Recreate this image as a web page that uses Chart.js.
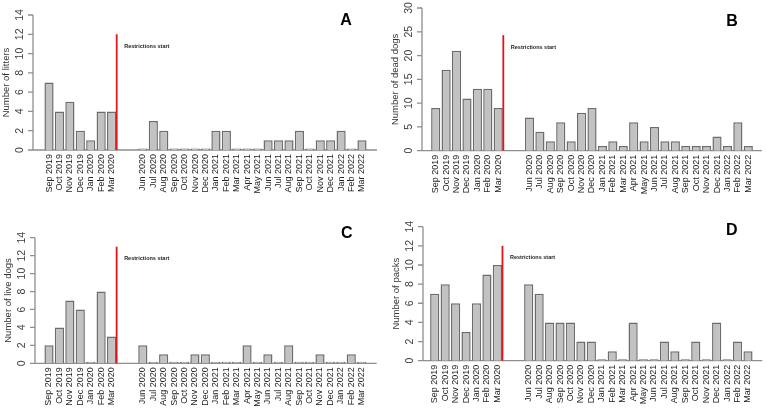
<!DOCTYPE html>
<html>
<head>
<meta charset="utf-8">
<script src="https://cdn.jsdelivr.net/npm/chart.js@4"></script>
<style>
  html, body { margin: 0; padding: 0; background: #fff; }
  #wrap { position: relative; width: 767px; height: 410px; overflow: hidden; }
  canvas { position: absolute; }
</style>
</head>
<body>
<div id="wrap">
  <canvas id="cA" width="384" height="205" style="left:0;top:0"></canvas>
  <canvas id="cB" width="383" height="205" style="left:384px;top:0"></canvas>
  <canvas id="cC" width="384" height="205" style="left:0;top:205px"></canvas>
  <canvas id="cD" width="383" height="205" style="left:384px;top:205px"></canvas>
</div>
<script>
// ---- Data ----
// '' entries = Apr 2020 / May 2020 gap (no data, no label)
const months = ['Sep 2019','Oct 2019','Nov 2019','Dec 2019','Jan 2020','Feb 2020','Mar 2020','','',
  'Jun 2020','Jul 2020','Aug 2020','Sep 2020','Oct 2020','Nov 2020','Dec 2020',
  'Jan 2021','Feb 2021','Mar 2021','Apr 2021','May 2021','Jun 2021','Jul 2021','Aug 2021','Sep 2021','Oct 2021','Nov 2021','Dec 2021',
  'Jan 2022','Feb 2022','Mar 2022'];

const litters  = [7,4,5,2,1,4,4, null,null, 0,3,2,0,0,0,0, 2,2,0,0,0,1,1,1,2,0,1,1, 2,0,1];
const deadDogs = [9,17,21,11,13,13,9, null,null, 7,4,2,6,2,8,9, 1,2,1,6,2,5,2,2,1,1,1,3, 1,6,1];
const liveDogs = [2,4,7,6,0,8,3, null,null, 2,0,1,0,0,1,1, 0,0,0,2,0,1,0,2,0,0,1,0, 0,1,0];
const packs    = [7,8,6,3,6,9,10, null,null, 8,7,4,4,4,2,2, 0,1,0,4,0,0,2,1,0,2,0,4, 0,2,1];

const panelLetters = ['A','B','C','D'];
const yTitles = ['Number of litters','Number of dead dogs','Number of live dogs','Number of packs'];
const yMaxes = [14, 30, 14, 14];
const ySteps = [2, 5, 2, 2];
const restrictionTops = [12, 24.3, 13, 12];
const restrictionLabel = 'Restrictions start';
const restrictionIndex = 6; // Mar 2020

const FONT = '"Liberation Sans", Arial, sans-serif';
Chart.defaults.font.family = FONT;

const rPlot = {
  id: 'rPlot',
  beforeDatasetsDraw(chart, args, o) {
    const ctx = chart.ctx, y = chart.scales.y;
    const ax = o.axisX;
    const y0 = y.getPixelForValue(0), yTop = y.getPixelForValue(y.max);
    ctx.save();
    ctx.strokeStyle = '#8f8f8f';
    ctx.lineWidth = 1.3;
    ctx.beginPath();
    ctx.moveTo(ax, y0); ctx.lineTo(ax, yTop);
    y.ticks.forEach(t => {
      const py = y.getPixelForValue(t.value);
      ctx.moveTo(ax - 5, py); ctx.lineTo(ax, py);
    });
    ctx.moveTo(ax, y0); ctx.lineTo(o.baseRight, y0);
    ctx.stroke();
    // tick labels (rotated like R)
    ctx.fillStyle = '#404040';
    ctx.font = '10.5px ' + FONT;
    ctx.textAlign = 'center';
    ctx.textBaseline = 'middle';
    y.ticks.forEach(t => {
      const py = y.getPixelForValue(t.value);
      ctx.save();
      ctx.translate(ax - 13, py);
      ctx.rotate(-Math.PI / 2);
      ctx.fillText(String(t.value), 0, 0);
      ctx.restore();
    });
    // axis title
    const ca = chart.chartArea;
    ctx.font = '9.5px ' + FONT;
    ctx.fillStyle = '#333';
    ctx.save();
    ctx.translate(ax - 27, (ca.top + ca.bottom) / 2);
    ctx.rotate(-Math.PI / 2);
    ctx.fillText(o.title, 0, 0);
    ctx.restore();
    ctx.restore();
  },
  afterDatasetsDraw(chart, args, o) {
    const ctx = chart.ctx, y = chart.scales.y;
    const bar = chart.getDatasetMeta(0).data[restrictionIndex];
    const lx = bar.x + bar.width / 2 + 0.5;
    const y0 = y.getPixelForValue(0), yT = y.getPixelForValue(o.lineTop);
    ctx.save();
    ctx.strokeStyle = '#e3141b';
    ctx.lineWidth = 1.8;
    ctx.beginPath(); ctx.moveTo(lx, y0); ctx.lineTo(lx, yT); ctx.stroke();
    ctx.fillStyle = '#222';
    ctx.font = 'bold 5.5px ' + FONT;
    ctx.textAlign = 'left';
    ctx.textBaseline = 'middle';
    ctx.fillText(restrictionLabel, lx + 7.5, yT + 12);
    ctx.fillStyle = '#000';
    ctx.font = 'bold 16px ' + FONT;
    ctx.textAlign = 'center';
    ctx.fillText(o.letter, o.letterX, o.letterY);
    ctx.restore();
  }
};

function panel(id, values, i, lay) {
  new Chart(document.getElementById(id), {
    type: 'bar',
    data: {
      labels: months,
      datasets: [{
        data: values,
        backgroundColor: '#c2c2c2',
        borderColor: '#6c6c6c',
        borderWidth: 1.5,
        barPercentage: 0.88,
        categoryPercentage: 1,
        minBarLength: 1.5
      }]
    },
    options: {
      responsive: false,
      animation: false,
      devicePixelRatio: 1,
      layout: { padding: { left: lay.left, right: lay.right, top: lay.top, bottom: 0 } },
      plugins: {
        legend: { display: false },
        tooltip: { enabled: false },
        rPlot: {
          axisX: lay.axisX, baseRight: lay.baseRight, title: yTitles[i],
          lineTop: restrictionTops[i], letter: panelLetters[i],
          letterX: lay.letterX, letterY: lay.letterY
        }
      },
      scales: {
        x: {
          grid: { display: false, drawTicks: false },
          border: { display: false },
          ticks: {
            autoSkip: false, minRotation: 90, maxRotation: 90, padding: 4,
            color: '#222', font: { size: 9, family: FONT }
          },
          afterFit: s => { s.height = lay.xHeight; }
        },
        y: {
          display: false,
          min: 0, max: yMaxes[i],
          ticks: { stepSize: ySteps[i] }
        }
      }
    },
    plugins: [rPlot]
  });
}

panel('cA', litters, 0, { left: 43.8, right: 16.8, top: 15, xHeight: 55, axisX: 33, baseRight: 377, letterX: 346, letterY: 21 });
panel('cB', deadDogs, 1, { left: 46.5, right: 13.5, top: 8, xHeight: 54.3, axisX: 38, baseRight: 378, letterX: 348, letterY: 22 });
panel('cC', liveDogs, 2, { left: 43.8, right: 17.1, top: 32.7, xHeight: 46.7, axisX: 35, baseRight: 376.7, letterX: 346.7, letterY: 28.3 });
panel('cD', packs, 3, { left: 45.5, right: 13.8, top: 21.7, xHeight: 49.3, axisX: 39, baseRight: 378.3, letterX: 347.7, letterY: 26 });
</script>
</body>
</html>
